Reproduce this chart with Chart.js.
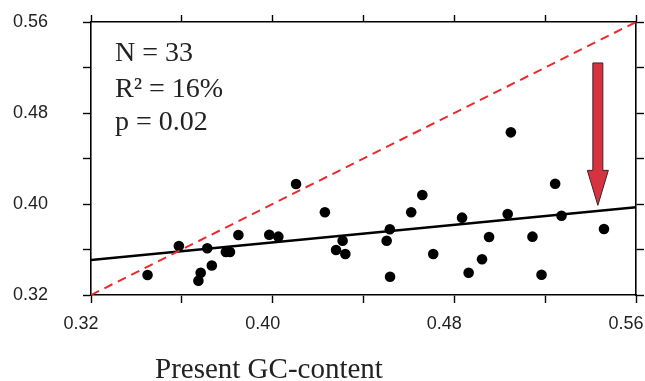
<!DOCTYPE html>
<html>
<head>
<meta charset="utf-8">
<script src="https://cdn.jsdelivr.net/npm/chart.js@4"></script>
<style>
  html, body { margin: 0; padding: 0; background: #fff; }
  #wrap { width: 645px; height: 381px; }
</style>
</head>
<body>
<div id="wrap"><canvas id="gc"></canvas></div>
<script>
// present GC-content (x) against the other GC measure (y), one point per gene
const presentGC = [0.3449, 0.3587, 0.3712, 0.3794, 0.3812, 0.3849, 0.3732, 0.3683, 0.3673,
  0.3985, 0.4025, 0.4103, 0.4230, 0.4308, 0.4279, 0.4320, 0.4516, 0.4502, 0.4517,
  0.4659, 0.4610, 0.4834, 0.5035, 0.4707, 0.4953, 0.4922, 0.4863, 0.5049, 0.5244,
  0.5272, 0.5144, 0.5459, 0.5184];
const otherGC = [0.3376, 0.3631, 0.3611, 0.3578, 0.3578, 0.3727, 0.3459, 0.3396, 0.3326,
  0.3730, 0.3713, 0.4176, 0.3927, 0.3677, 0.3596, 0.3560, 0.3778, 0.3677, 0.3361,
  0.4079, 0.3927, 0.3880, 0.3912, 0.3560, 0.3710, 0.3514, 0.3396, 0.4630, 0.4178,
  0.3897, 0.3713, 0.3780, 0.3378];

const fitX = [0.32, 0.56];
const fitY = [0.3508, 0.3971];
const diagX = [0.32, 0.56];
const diagY = [0.32, 0.56];

const tickLabels = ['0.32', '0.40', '0.48', '0.56'];
const statLines = ['N = 33', 'R\u00b2 = 16%', 'p = 0.02'];
const xTitle = 'Present GC-content';

// arrow in data units
const arrowX = 0.5432;
const arrowTop = 0.524;
const arrowTip = 0.3988;

function labelFor(v) {
  const s = v.toFixed(2);
  return tickLabels.includes(s) ? s : '';
}

const tickFont = { family: 'Liberation Sans, Arial, sans-serif', size: 18 };

function noPad(s) {
  s.paddingLeft = 0; s.paddingRight = 0; s.paddingTop = 0; s.paddingBottom = 0;
}

function axisBase(extra) {
  return Object.assign({
    type: 'linear',
    min: 0.32,
    max: 0.56,
    border: { color: '#000', width: 1.6 },
    grid: { drawOnChartArea: false, drawTicks: true, tickLength: 8, tickColor: '#000', tickWidth: 1.4 },
  }, extra);
}

const overlay = {
  id: 'overlay',
  afterDatasetsDraw(chart) {
    const c = chart.ctx;
    const xs = chart.scales.x, ys = chart.scales.y;
    const area = chart.chartArea;

    // arrow
    const ax = xs.getPixelForValue(arrowX);
    const top = ys.getPixelForValue(arrowTop);
    const tip = ys.getPixelForValue(arrowTip);
    const headLen = 35, shaftW = 5, headW = 10.5;
    c.save();
    c.beginPath();
    c.moveTo(ax - shaftW, top);
    c.lineTo(ax + shaftW, top);
    c.lineTo(ax + shaftW, tip - headLen);
    c.lineTo(ax + headW, tip - headLen);
    c.lineTo(ax, tip);
    c.lineTo(ax - headW, tip - headLen);
    c.lineTo(ax - shaftW, tip - headLen);
    c.closePath();
    c.fillStyle = '#d6323f';
    c.fill();
    c.strokeStyle = '#3b2326';
    c.lineWidth = 1;
    c.stroke();

    // stats text
    c.fillStyle = '#222';
    c.font = '28px "Liberation Serif", "Times New Roman", serif';
    c.textAlign = 'left';
    c.textBaseline = 'alphabetic';
    const bases = [61, 97, 130];
    statLines.forEach((t, i) => c.fillText(t, area.left + 24, bases[i]));

    // x axis title
    c.font = '29px "Liberation Serif", "Times New Roman", serif';
    c.fillText(xTitle, 155, 378);
    c.restore();
  }
};

new Chart(document.getElementById('gc'), {
  type: 'scatter',
  data: {
    datasets: [
      {
        type: 'line',
        data: diagX.map((x, i) => ({ x: x, y: diagY[i] })),
        borderColor: '#ec2a2e',
        borderWidth: 2,
        borderDash: [9, 6],
        pointRadius: 0,
        fill: false
      },
      {
        type: 'line',
        data: fitX.map((x, i) => ({ x: x, y: fitY[i] })),
        borderColor: '#000',
        borderWidth: 2.5,
        pointRadius: 0,
        fill: false
      },
      {
        data: presentGC.map((x, i) => ({ x: x, y: otherGC[i] })),
        backgroundColor: '#000',
        borderColor: '#000',
        pointRadius: 5.3,
        pointBorderWidth: 0
      }
    ]
  },
  options: {
    responsive: true,
    maintainAspectRatio: false,
    animation: false,
    layout: { padding: 0 },
    plugins: { legend: { display: false }, tooltip: { enabled: false } },
    scales: {
      x: axisBase({
        position: 'bottom',
        ticks: { stepSize: 0.04, autoSkip: false, color: '#222', font: tickFont, padding: 10, labelOffset: -10, maxRotation: 0, callback: labelFor },
        afterFit(s) { s.height = 86; noPad(s); }
      }),
      x2: axisBase({
        position: 'top',
        ticks: { stepSize: 0.04, display: false },
        grid: { drawOnChartArea: false, tickLength: 7, tickColor: '#000', tickWidth: 1.4 },
        afterFit(s) { s.height = 22; noPad(s); }
      }),
      y: axisBase({
        position: 'left',
        ticks: { stepSize: 0.04, autoSkip: false, color: '#222', font: tickFont, padding: 35, callback: labelFor },
        afterFit(s) { s.width = 91; noPad(s); }
      }),
      y2: axisBase({
        position: 'right',
        ticks: { stepSize: 0.04, display: false },
        afterFit(s) { s.width = 9; noPad(s); }
      })
    }
  },
  plugins: [overlay]
});
</script>
</body>
</html>
